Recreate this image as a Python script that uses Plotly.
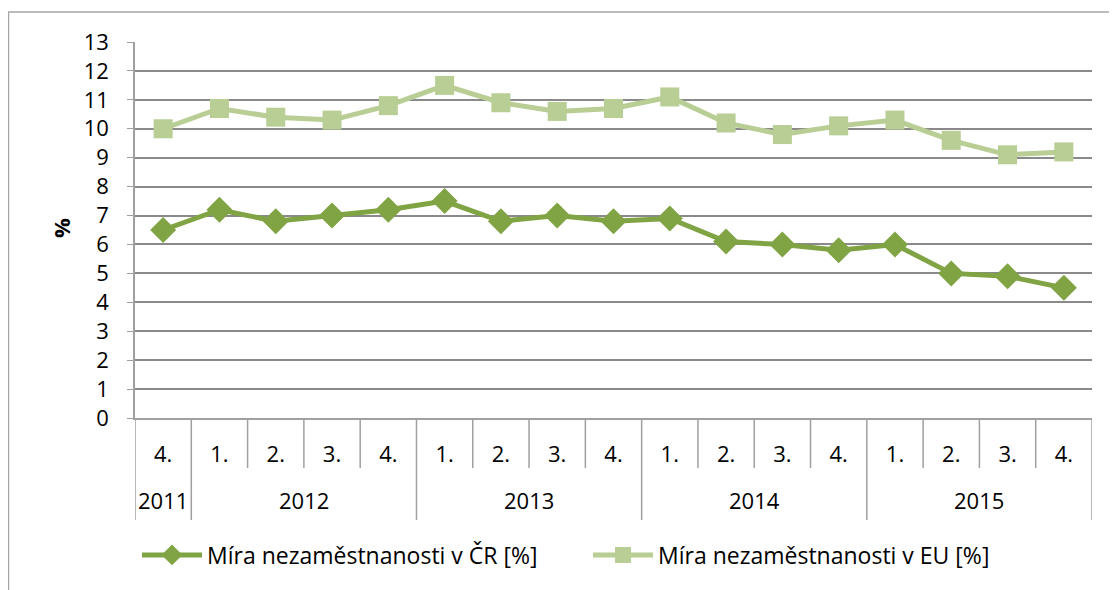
import plotly.graph_objects as go

years = ["2011", "2012", "2012", "2012", "2012", "2013", "2013", "2013", "2013",
         "2014", "2014", "2014", "2014", "2015", "2015", "2015", "2015"]
quarters = ["4.", "1.", "2.", "3.", "4.", "1.", "2.", "3.", "4.",
            "1.", "2.", "3.", "4.", "1.", "2.", "3.", "4."]
cr_rate = [6.5, 7.2, 6.8, 7.0, 7.2, 7.5, 6.8, 7.0, 6.8, 6.9, 6.1, 6.0, 5.8, 6.0, 5.0, 4.9, 4.5]
eu_rate = [10.0, 10.7, 10.4, 10.3, 10.8, 11.5, 10.9, 10.6, 10.7, 11.1, 10.2, 9.8, 10.1, 10.3, 9.6, 9.1, 9.2]

periods = [f"{y} {q}" for y, q in zip(years, quarters)]

# page body has an 8px margin, so the figure is a bit smaller than the window
OFF = 8
W, H = 1117 - OFF, 590 - OFF
L, R, T, B = 135 - OFF, 25, 42 - OFF, 172
pw, ph = W - L - R, H - T - B
FONT = "Open Sans, Noto Sans, sans-serif"

def px(x):
    # screen pixel -> paper coordinate
    return (x - OFF - L) / pw

def py(y):
    return (H - B - (y - OFF)) / ph

fig = go.Figure()
fig.add_trace(go.Scatter(x=periods, y=cr_rate, mode="lines+markers",
                         name="Míra nezaměstnanosti v ČR [%]",
                         line=dict(color="#80A344", width=5),
                         marker=dict(symbol="diamond", size=20, color="#80A344")))
fig.add_trace(go.Scatter(x=periods, y=eu_rate, mode="lines+markers",
                         name="Míra nezaměstnanosti v EU [%]",
                         line=dict(color="#B8CE94", width=5),
                         marker=dict(symbol="square", size=19, color="#B8CE94")))

shapes = []
annotations = []
grey = "#A0A0A0"
n = len(periods)
for i in range(n + 1):
    boundary = i == 0 or i == n or years[i] != years[i - 1]
    shapes.append(dict(type="line", xref="x", yref="paper", x0=i - 0.5, x1=i - 0.5,
                       y0=0, y1=py(520 if boundary else 468), line=dict(color=grey, width=1.5)))
# year labels centred under their quarters
start = 0
for i in range(1, n + 1):
    if i == n or years[i] != years[start]:
        annotations.append(dict(x=(start + i - 1) / 2, y=py(500), xref="x", yref="paper",
                                text=years[start], showarrow=False, yanchor="middle",
                                font=dict(size=22)))
        start = i
annotations.append(dict(x=px(61), y=py(228), xref="paper", yref="paper", text="<b>%</b>",
                        textangle=-90, showarrow=False, xanchor="center", yanchor="middle",
                        font=dict(size=22)))
# chart area border (only top and left edges are inside the window)
shapes.append(dict(type="rect", xref="paper", yref="paper", x0=px(8.5), x1=px(1140),
                   y0=py(620), y1=py(12), line=dict(color="#A6A6A6", width=1.5)))

fig.update_layout(
    width=W, height=H,
    margin=dict(l=L, r=R, t=T, b=B),
    plot_bgcolor="white", paper_bgcolor="white",
    font=dict(family=FONT, size=22, color="#000000"),
    xaxis=dict(type="category", range=[-0.5, n - 0.5], tickvals=periods, ticktext=quarters,
               showgrid=False, showline=True, linecolor=grey, linewidth=1.5, ticks="",
               ticklabelstandoff=16, automargin=False, tickfont=dict(size=22)),
    yaxis=dict(range=[0, 13], dtick=1, showgrid=True, gridcolor="#8A8A8A", gridwidth=1.5,
               showline=True, linecolor=grey, linewidth=1.5, ticks="outside",
               ticklen=6, tickcolor=grey, zeroline=False, automargin=False,
               ticklabelstandoff=14, tickfont=dict(size=22)),
    legend=dict(orientation="h", x=px(137), xanchor="left", y=py(555), yanchor="middle",
                font=dict(size=23), itemwidth=60, traceorder="normal",
                entrywidth=376, entrywidthmode="pixels"),
    shapes=shapes,
    annotations=annotations,
    showlegend=True,
)

fig.write_html("out.html")
